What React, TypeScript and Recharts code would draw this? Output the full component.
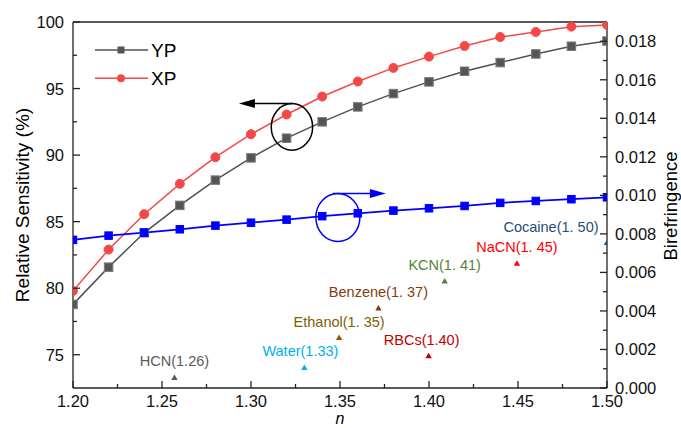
import { ComposedChart, Line, Scatter, XAxis, YAxis, ReferenceLine, ReferenceDot } from 'recharts';

// refractive index of the analyte
const nValues = [1.2, 1.22, 1.24, 1.26, 1.28, 1.3, 1.32, 1.34, 1.36, 1.38, 1.4, 1.42, 1.44, 1.46, 1.48, 1.5];
const ypValues = [78.78, 81.58, 84.16, 86.22, 88.12, 89.79, 91.27, 92.5, 93.62, 94.62, 95.5, 96.3, 96.95, 97.6, 98.18, 98.57];
const xpValues = [79.8, 82.9, 85.56, 87.84, 89.84, 91.57, 93.05, 94.4, 95.53, 96.55, 97.4, 98.2, 98.87, 99.25, 99.65, 99.78];
const biValues = [0.00769, 0.00791, 0.00807, 0.00824, 0.00843, 0.00858, 0.00874, 0.00892, 0.00907, 0.00921, 0.00933, 0.00945, 0.00961, 0.00971, 0.0098, 0.0099];

const analytes = ['HCN(1.26)', 'Water(1.33)', 'Ethanol(1. 35)', 'Benzene(1. 37)', 'RBCs(1.40)', 'KCN(1. 41)', 'NaCN(1. 45)', 'Cocaine(1. 50)'];
const analyteN = [1.257, 1.33, 1.3495, 1.3716, 1.3998, 1.4088, 1.4494, 1.5];
const analyteB = [0.00055, 0.00107, 0.00262, 0.00415, 0.00167, 0.00556, 0.00648, 0.00755];
const analyteColors = ['#595959', '#00b0f0', '#806000', '#843c0c', '#c00000', '#548235', '#ff0000', '#1f4e79'];

const xTicks = [1.2, 1.225, 1.25, 1.275, 1.3, 1.325, 1.35, 1.375, 1.4, 1.425, 1.45, 1.475, 1.5];
const leftTicks = [75, 77.5, 80, 82.5, 85, 87.5, 90, 92.5, 95, 97.5, 100];
const rightTicks = [0, 0.001, 0.002, 0.003, 0.004, 0.005, 0.006, 0.007, 0.008, 0.009, 0.01, 0.011, 0.012, 0.013, 0.014, 0.015, 0.016, 0.017, 0.018];

const chartData = nValues.map((n, i) => ({ n, yp: ypValues[i], xp: xpValues[i], bi: biValues[i] }));
const analyteData = analytes.map((label, i) => ({ n: analyteN[i], v: analyteB[i], label, color: analyteColors[i] }));

// small label nudges so text sits like the original
const labelShift: Record<string, number> = { 'Cocaine(1. 50)': -56, 'RBCs(1.40)': -7, 'Water(1.33)': -4 };

const FONT = '"Liberation Sans", Arial, sans-serif';
const AXIS = '#222';

const LeftTick = (props: any) => {
  const { x, y, payload } = props;
  const v = payload.value;
  const ax = x + 8;
  const major = Math.abs(v % 5) < 1e-6;
  return (
    <g>
      <line x1={ax} x2={ax + (major ? 7 : 4)} y1={y} y2={y} stroke={AXIS} strokeWidth={1.3} />
      {major && (
        <text x={ax - 9} y={y} textAnchor="end" dominantBaseline="central" fontSize={16.5} fontFamily={FONT} fill="#111">
          {v}
        </text>
      )}
    </g>
  );
};

const RightTick = (props: any) => {
  const { x, y, payload } = props;
  const v = payload.value;
  const ax = x - 8;
  const major = Math.round(v * 1000) % 2 === 0;
  return (
    <g>
      <line x1={ax} x2={ax - (major ? 7 : 4)} y1={y} y2={y} stroke={AXIS} strokeWidth={1.3} />
      {major && (
        <text x={ax + 8} y={y} textAnchor="start" dominantBaseline="central" fontSize={16.5} fontFamily={FONT} fill="#111">
          {v.toFixed(3)}
        </text>
      )}
    </g>
  );
};

const BottomTick = (props: any) => {
  const { x, y, payload } = props;
  const v = payload.value;
  const ay = y - 8;
  const major = Math.round(v * 1000) % 50 === 0;
  return (
    <g>
      <line x1={x} x2={x} y1={ay} y2={ay - (major ? 7 : 4)} stroke={AXIS} strokeWidth={1.3} />
      {major && (
        <text x={x} y={ay + 12.5} textAnchor="middle" dominantBaseline="central" fontSize={16.5} fontFamily={FONT} fill="#111">
          {v.toFixed(2)}
        </text>
      )}
    </g>
  );
};

const squareDot = (size: number, fill: string, stroke: string) => (p: any) => (
  <rect key={`sq-${fill}-${p.index}`} x={p.cx - size / 2} y={p.cy - size / 2} width={size} height={size} fill={fill} stroke={stroke} strokeWidth={1} />
);

const circleDot = (p: any) => <circle key={`c-${p.index}`} cx={p.cx} cy={p.cy} r={4.5} fill="#f44848" stroke="#f44848" />;

const TriangleMark = (p: any) => {
  const { cx, cy, payload } = p;
  const dx = labelShift[payload.label] || 0;
  return (
    <g>
      <path d={`M${cx},${cy - 3} L${cx + 3.2},${cy + 2.5} L${cx - 3.2},${cy + 2.5} Z`} fill={payload.color} />
      <text x={cx + dx} y={cy - 16} textAnchor="middle" dominantBaseline="central" fontSize={14.5} fontFamily={FONT} fill={payload.color}>
        {payload.label}
      </text>
    </g>
  );
};

const BlackLoop = (p: any) => {
  const { cx, cy } = p;
  const ty = cy - 23.3;
  return (
    <g>
      <ellipse cx={cx} cy={cy} rx={20.7} ry={23.3} fill="none" stroke="#000" strokeWidth={1.5} />
      <line x1={cx + 1} y1={ty} x2={cx - 40} y2={ty} stroke="#000" strokeWidth={1.5} />
      <path d={`M${cx - 53},${ty} L${cx - 37},${ty - 4.5} L${cx - 37},${ty + 4.5} Z`} fill="#000" />
    </g>
  );
};

const BlueLoop = (p: any) => {
  const { cx, cy } = p;
  const ty = cy - 24;
  return (
    <g>
      <ellipse cx={cx} cy={cy} rx={22} ry={24} fill="none" stroke="#0000ff" strokeWidth={1.5} />
      <line x1={cx - 5} y1={ty} x2={cx + 35} y2={ty} stroke="#0000ff" strokeWidth={1.5} />
      <path d={`M${cx + 48},${ty} L${cx + 32},${ty - 4.5} L${cx + 32},${ty + 4.5} Z`} fill="#0000ff" />
    </g>
  );
};

export default function App() {
  return (
    <div style={{ position: 'relative', width: 681, height: 428, background: '#fff', fontFamily: FONT }}>
      <style>{'body{margin:0}'}</style>
      <ComposedChart width={681} height={428} data={chartData} margin={{ top: 22, right: 0, bottom: 0, left: 0 }}>
        <XAxis
          dataKey="n"
          type="number"
          domain={[1.2, 1.5]}
          ticks={xTicks}
          interval={0}
          height={40}
          tickSize={0}
          tickMargin={8}
          tickLine={false}
          tick={<BottomTick />}
          axisLine={{ stroke: AXIS, strokeWidth: 1.3 }}
          allowDataOverflow
        />
        <YAxis
          yAxisId="left"
          type="number"
          domain={[72.5, 100]}
          ticks={leftTicks}
          interval={0}
          width={73}
          tickSize={0}
          tickMargin={8}
          tickLine={false}
          tick={<LeftTick />}
          axisLine={{ stroke: AXIS, strokeWidth: 1.3 }}
          allowDataOverflow
        />
        <YAxis
          yAxisId="right"
          orientation="right"
          type="number"
          domain={[0, 0.019]}
          ticks={rightTicks}
          interval={0}
          width={74}
          tickSize={0}
          tickMargin={8}
          tickLine={false}
          tick={<RightTick />}
          axisLine={{ stroke: AXIS, strokeWidth: 1.3 }}
          allowDataOverflow
        />
        <ReferenceLine yAxisId="left" y={100} stroke={AXIS} strokeWidth={1.3} ifOverflow="extendDomain" />
        <Line
          yAxisId="left"
          dataKey="yp"
          stroke="#505050"
          strokeWidth={1.5}
          dot={squareDot(8.5, '#555555', '#7a7a7a')}
          activeDot={false}
          isAnimationActive={false}
        />
        <Line
          yAxisId="left"
          dataKey="xp"
          stroke="#f44848"
          strokeWidth={1.5}
          dot={circleDot}
          activeDot={false}
          isAnimationActive={false}
        />
        <Line
          yAxisId="right"
          dataKey="bi"
          stroke="#0000ff"
          strokeWidth={1.8}
          dot={squareDot(7.5, '#0000ff', '#0000ff')}
          activeDot={false}
          isAnimationActive={false}
        />
        <Scatter yAxisId="right" data={analyteData} dataKey="v" shape={TriangleMark} isAnimationActive={false} />
        <ReferenceDot yAxisId="left" x={1.323} y={92.12} shape={BlackLoop} />
        <ReferenceDot yAxisId="right" x={1.3488} y={0.00885} shape={BlueLoop} />
      </ComposedChart>
      <svg width={681} height={428} style={{ position: 'absolute', left: 0, top: 0, pointerEvents: 'none' }}>
        <g fontFamily={FONT} fill="#000">
          <line x1={95} x2={148} y1={50} y2={50} stroke="#505050" strokeWidth={1.5} />
          <rect x={117.5} y={46.5} width={7} height={7} fill="#555555" />
          <text x={151} y={50} dominantBaseline="central" fontSize={19}>YP</text>
          <line x1={95} x2={148} y1={78.3} y2={78.3} stroke="#f44848" strokeWidth={1.5} />
          <circle cx={121} cy={78.3} r={4} fill="#f44848" />
          <text x={151} y={78.3} dominantBaseline="central" fontSize={19}>XP</text>
          <text transform="translate(22.5,205) rotate(-90)" textAnchor="middle" dominantBaseline="central" fontSize={19}>
            Relative Sensitivity (%)
          </text>
          <text transform="translate(670,206) rotate(-90)" textAnchor="middle" dominantBaseline="central" fontSize={18.5}>
            Birefringence
          </text>
          <text x={340} y={423.5} textAnchor="middle" fontSize={16} fontStyle="italic">n</text>
        </g>
      </svg>
    </div>
  );
}
